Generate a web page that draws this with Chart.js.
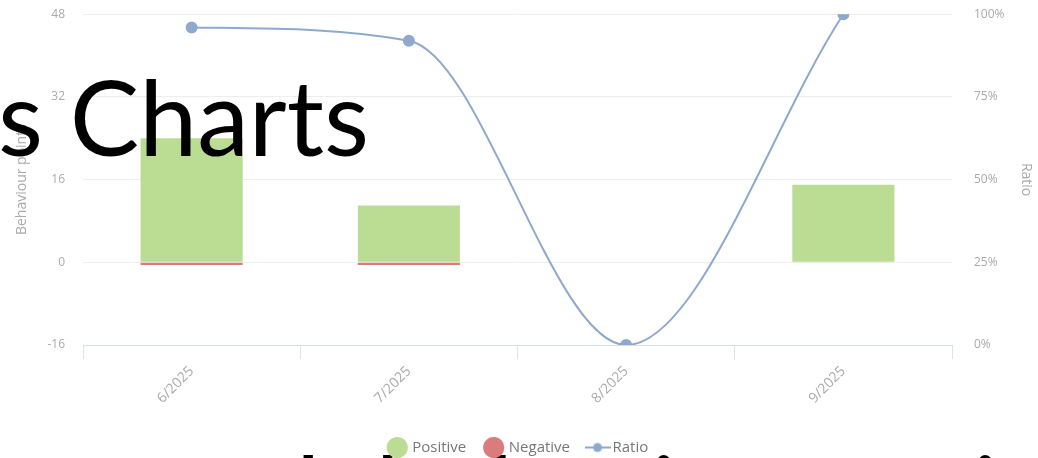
<!DOCTYPE html>
<html>
<head>
<meta charset="utf-8">
<script src="https://cdn.jsdelivr.net/npm/chart.js@4"></script>
<style>
html,body{margin:0;padding:0;background:#fff;overflow:hidden}
#wrap{position:relative;width:1038px;height:458px;overflow:hidden}
#chart{position:absolute;left:0;top:-15px}
#big{position:absolute;left:-2px;top:64px;font-family:Lato,"Open Sans",sans-serif;font-size:104px;color:#000;line-height:1;white-space:nowrap;z-index:2}
#bottom{position:absolute;left:-2px;top:440px;font-family:Lato,"Open Sans",sans-serif;font-size:104px;color:#000;line-height:1;white-space:nowrap;z-index:0}
</style>
</head>
<body>
<div id="wrap">
<div id="bottom">to track behaviour points and ratio</div>
<canvas id="chart" width="1038" height="482"></canvas>
<div id="big">s Charts</div>
</div>
<script>
// data
const months = ['6/2025','7/2025','8/2025','9/2025']
const positive = [24, 11, 0, 15]
const negative = [-0.5, -0.5, 0, 0]
const ratio = [96, 92, 0, 100]

const leftTicks = [-16, 0, 16, 32, 48]
const rightTicks = [0, 25, 50, 75, 100]

const lineBlue = '#8fa9cc'

// legend icon for the line series: short line with a dot
const ratioIcon = document.createElement('canvas')
ratioIcon.width = 26
ratioIcon.height = 12
const ic = ratioIcon.getContext('2d')
ic.strokeStyle = lineBlue
ic.lineWidth = 2
ic.beginPath(); ic.moveTo(0,6); ic.lineTo(26,6); ic.stroke()
ic.fillStyle = lineBlue
ic.beginPath(); ic.arc(13,6,4.5,0,Math.PI*2); ic.fill()

Chart.defaults.font.family = '"Open Sans", sans-serif'
Chart.defaults.color = '#999'

new Chart(document.getElementById('chart'), {
  type:'bar',
  data:{
    labels:months,
    datasets:[
      {
        type:'line',
        label:'Ratio',
        data:ratio,
        yAxisID:'y1',
        borderColor:lineBlue,
        backgroundColor:lineBlue,
        borderWidth:2,
        pointRadius:5,
        pointHoverRadius:5,
        cubicInterpolationMode:'monotone',
        pointStyle:'circle',
        order:0
      },
      {
        label:'Positive',
        data:positive,
        backgroundColor:'#badc93',
        stack:'s',
        yAxisID:'y',
        categoryPercentage:1,
        barPercentage:0.47,
        order:1
      },
      {
        label:'Negative',
        data:negative,
        backgroundColor:'#db7b7b',
        stack:'s',
        yAxisID:'y',
        categoryPercentage:1,
        barPercentage:0.47,
        order:1
      }
    ]
  },
  options:{
    responsive:false,
    animation:false,
    layout:{padding:{top:0,left:0,right:0,bottom:2}},
    plugins:{
      tooltip:{enabled:false},
      legend:{
        position:'bottom',
        labels:{
          usePointStyle:true,
          color:'#777',
          font:{size:15},
          boxWidth:15,
          boxHeight:15,
          padding:20,
          generateLabels(chart){
            const order = [1,2,0]
            return order.map(i=>{
              const ds = chart.data.datasets[i]
              return {
                text:ds.label,
                datasetIndex:i,
                fillStyle:ds.backgroundColor,
                strokeStyle:ds.backgroundColor,
                lineWidth:0,
                fontColor:'#777',
                pointStyle: ds.type==='line' ? ratioIcon : 'circle'
              }
            })
          }
        }
      }
    },
    scales:{
      x:{
        stacked:true,
        grid:{offset:true,drawOnChartArea:false,tickLength:14,color:'#dde3ee'},
        border:{color:'#d6deeb'},
        ticks:{maxRotation:45,minRotation:45,font:{size:14},color:'#aaa',padding:4},
        afterFit(s){ s.height = 75 }
      },
      y:{
        stacked:true,
        position:'left',
        min:-16,
        max:48,
        afterBuildTicks(s){ s.ticks = leftTicks.map(v=>({value:v})) },
        grid:{color:'#eeeeee',drawTicks:false},
        border:{display:false},
        ticks:{font:{size:12},color:'#aaa',padding:18},
        title:{display:true,text:'Behaviour points',color:'#aaa',font:{size:14},padding:{top:14,bottom:4}},
        afterFit(s){ s.width = 83 }
      },
      y1:{
        position:'right',
        min:0,
        max:100,
        afterBuildTicks(s){ s.ticks = rightTicks.map(v=>({value:v})) },
        grid:{drawOnChartArea:false,drawTicks:false},
        border:{display:false},
        ticks:{font:{size:12},color:'#aaa',padding:22,callback:v=>v+'%'},
        title:{display:true,text:'Ratio',color:'#aaa',font:{size:14}},
        afterFit(s){ s.width = 86 }
      }
    }
  }
})
</script>
</body>
</html>
